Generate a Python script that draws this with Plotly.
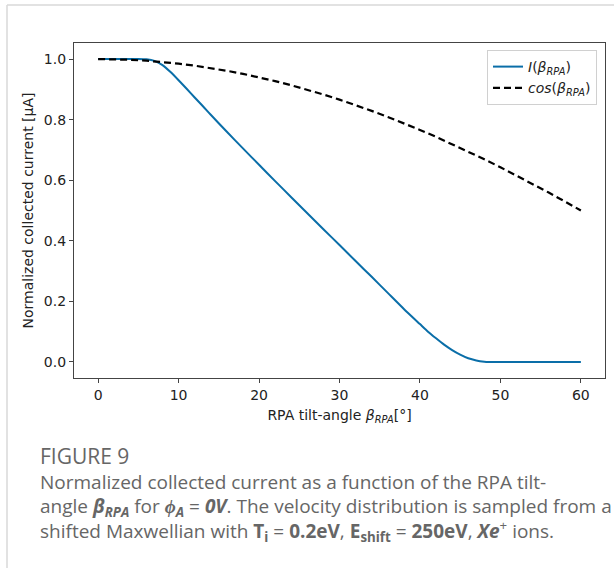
import plotly.graph_objects as go

# ---- data ----
beta_I = [0, 2, 4, 5, 6, 7, 8, 9, 10, 11, 12, 13, 14, 16, 18, 20, 22, 24, 26, 28,
          30, 32, 34, 36, 38, 40, 41, 42, 43, 44, 45, 46, 47, 48, 48.5, 50, 52, 54, 56, 58, 60]
current_I = [1.000, 1.000, 1.000, 1.000, 0.999, 0.994, 0.980, 0.957, 0.930, 0.902, 0.873,
             0.845, 0.816, 0.760, 0.705, 0.651, 0.597, 0.544, 0.491, 0.438,
             0.386, 0.333, 0.281, 0.228, 0.175, 0.125, 0.100, 0.078, 0.057, 0.039,
             0.024, 0.012, 0.005, 0.001, 0.000, 0.000, 0.000, 0.000, 0.000, 0.000, 0.000]

beta_cos = [0, 2, 4, 6, 8, 10, 12, 14, 16, 18, 20, 22, 24, 26, 28, 30,
            32, 34, 36, 38, 40, 42, 44, 46, 48, 50, 52, 54, 56, 58, 60]
cos_vals = [1.0000, 0.9994, 0.9976, 0.9945, 0.9903, 0.9848, 0.9781, 0.9703, 0.9613,
            0.9511, 0.9397, 0.9272, 0.9135, 0.8988, 0.8829, 0.8660, 0.8480, 0.8290,
            0.8090, 0.7880, 0.7660, 0.7431, 0.7193, 0.6947, 0.6691, 0.6428, 0.6157,
            0.5878, 0.5592, 0.5299, 0.5000]

x_ticks = [0, 10, 20, 30, 40, 50, 60]
y_ticks = [0.0, 0.2, 0.4, 0.6, 0.8, 1.0]

# ---- layout geometry (pixels) ----
W, H = 614, 568
L, R, T, B = 74, 605, 43, 378


def px(x):
    return (x - L) / (R - L)


def py(y):
    return (B - y) / (B - T)


fig = go.Figure()
fig.add_trace(go.Scatter(
    x=beta_I, y=current_I, mode="lines",
    name="<i>I</i>(<i>β</i><sub><i>RPA</i></sub>)",
    line=dict(color="#0a6ea8", width=2, shape="spline", smoothing=0.6),
))
fig.add_trace(go.Scatter(
    x=beta_cos, y=cos_vals, mode="lines",
    name="<i>cos</i>(<i>β</i><sub><i>RPA</i></sub>)",
    line=dict(color="#000000", width=2.2, dash="7px,4px"),
))

axis_font = dict(family="DejaVu Sans", size=14, color="#222222")

fig.update_layout(
    width=W, height=H,
    margin=dict(l=L, r=W - R, t=T, b=H - B),
    paper_bgcolor="white", plot_bgcolor="white",
    showlegend=True,
    legend=dict(
        x=px(597), y=py(50), xanchor="right", yanchor="top",
        bgcolor="white", bordercolor="#d0d0d0", borderwidth=1,
        font=dict(family="DejaVu Sans", size=14, color="#222222"),
        tracegroupgap=0,
    ),
    xaxis=dict(
        range=[-3, 63], tickvals=x_ticks, ticktext=[str(v) for v in x_ticks],
        showgrid=False, zeroline=False,
        showline=True, linecolor="#444444", linewidth=1.2, mirror=True,
        ticks="outside", ticklen=4, tickcolor="#444444", tickwidth=1,
        tickfont=axis_font,
        title=dict(text="RPA tilt-angle <i>β</i><sub><i>RPA</i></sub>[°]",
                   font=axis_font, standoff=8),
    ),
    yaxis=dict(
        range=[-0.053, 1.053], tickvals=y_ticks, ticktext=[f"{v:.1f}" for v in y_ticks],
        showgrid=False, zeroline=False,
        showline=True, linecolor="#444444", linewidth=1.2, mirror=True,
        ticks="outside", ticklen=4, tickcolor="#444444", tickwidth=1,
        tickfont=axis_font,
        title=dict(text="Normalized collected current [μA]", font=axis_font, standoff=6),
    ),
)

# card frame lines (top and left)
fig.add_shape(type="line", xref="paper", yref="paper",
              x0=px(7), x1=px(614), y0=py(5), y1=py(5),
              line=dict(color="#d8d8d8", width=1.5))
fig.add_shape(type="line", xref="paper", yref="paper",
              x0=px(7), x1=px(7), y0=py(5), y1=py(568),
              line=dict(color="#d8d8d8", width=1.5))

cap_color = "#666666"
caption_lines = [
    "<span style='font-size:21px'>FIGURE 9</span>",
    "Normalized collected current as a function of the RPA tilt-",
    "angle <b><i>β</i></b><sub><b><i>RPA</i></b></sub> for <b><i>ϕ</i></b><sub><b><i>A</i></b></sub> = "
    "<b><i>0V</i></b>. The velocity distribution is sampled from a",
    "shifted Maxwellian with <b>T</b><sub><b>i</b></sub> = <b>0.2eV</b>, "
    "<b>E</b><sub><b>shift</b></sub> = <b>250eV</b>, <b><i>Xe</i></b><sup>+</sup> ions.",
]
fig.add_annotation(
    text="<br>".join(caption_lines), xref="paper", yref="paper",
    x=px(38), y=py(440), xanchor="left", yanchor="top", align="left",
    showarrow=False, font=dict(family="Open Sans", size=19, color=cap_color),
)

fig.write_html("out.html")
